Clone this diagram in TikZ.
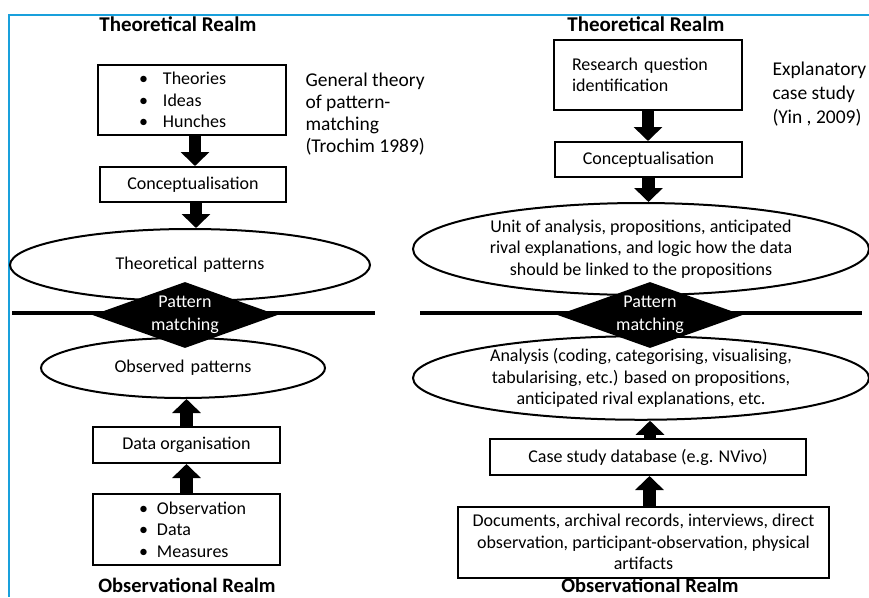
\documentclass[tikz,border=0pt]{standalone}
\usepackage{fontspec}
\setmainfont{Carlito}
\usetikzlibrary{shapes.geometric,arrows.meta}
\definecolor{frameblue}{RGB}{25,160,220}

\begin{document}
\begin{tikzpicture}[x=1pt,y=-1pt,
  every node/.style={font=\fontsize{18}{21.5}\selectfont},
  box/.style={draw, line width=2pt, inner sep=0pt, align=center},
  oval/.style={draw, ellipse, line width=2pt, inner sep=0pt, align=center, fill=white},
  pm/.style={diamond, fill=black, text=white, inner sep=0pt, aspect=2.8,
    minimum width=185pt, minimum height=66pt, align=center,
    font=\fontsize{18}{23}\selectfont},
  realm/.style={anchor=base, inner sep=0pt, font=\fontsize{21}{24}\selectfont\bfseries},
  lowrealm/.style={realm, font=\fontsize{20.5}{24}\selectfont\bfseries},
  note/.style={align=left, anchor=west},
  flow/.style={line width=12.5pt, -{Triangle[width=28pt,length=14pt]}},
  divider/.style={line width=4.5pt},
]
\useasboundingbox (0,0) rectangle (869,597);

% frame
\draw[frameblue, line width=2.5pt] (869,15) -- (9,15) -- (9,597);

% dividers between the realms
\coordinate (dl1) at (12,313);
\coordinate (dl2) at (375,313);
\coordinate (dr1) at (420,313);
\coordinate (dr2) at (862,313);
\draw[divider] (dl1) -- (dl2);
\draw[divider] (dr1) -- (dr2);

% ---------- left: general theory of pattern-matching ----------
\node[realm] (tl) at (178,31) {Theoretical Realm};
\node[box, minimum width=188pt, minimum height=70pt, text width=106pt, align=left]
  (ideas) at (192,100)
  {\makebox[24pt][l]{\textbullet}Theories\\
   \makebox[24pt][l]{\textbullet}Ideas\\
   \makebox[24pt][l]{\textbullet}Hunches};
\node[box, minimum width=186pt, minimum height=35pt] (concl) at (193,184.5) {Conceptualisation};
\node[oval, minimum width=360pt, minimum height=72pt] (tp) at (190,265) {Theoretical\hspace{6pt}patterns};
\node[oval, minimum width=284pt, minimum height=60pt] (op) at (183,368) {Observed\hspace{6pt}patterns};
\node[box, minimum width=187pt, minimum height=36pt] (dorg) at (186.5,445) {Data organisation};
\node[box, minimum width=187pt, minimum height=71pt, text width=95pt, align=left]
  (obs) at (186.5,529.5)
  {\makebox[18pt][l]{\textbullet}Observation\\
   \makebox[18pt][l]{\textbullet}Data\\
   \makebox[18pt][l]{\textbullet}Measures};
\node[lowrealm] (ol) at (187,592) {Observational Realm};
\node[pm] (pml) at (185,315) {Pattern\\matching};
\node[note, font=\fontsize{19.5}{22}\selectfont] (gt) at (302,114.5)
  {General theory\\of pattern-\\matching\\(Trochim 1989)};

\draw[flow] ([xshift=3pt]ideas.south) -- ([xshift=3pt]ideas.south |- concl.north);
\draw[flow] ([xshift=3pt]concl.south) -- ([xshift=3pt]concl.south |- tp.north);
\draw[flow] (dorg.north) -- (dorg.north |- op.south);
\draw[flow] (obs.north) -- (obs.north |- dorg.south);

% ---------- right: explanatory case study ----------
\node[realm] (tr) at (646,31) {Theoretical Realm};
\node[box, minimum width=188pt, minimum height=70pt, text width=152pt, align=left]
  (rq) at (648,75) {Research question\\identification};
\node[box, minimum width=187pt, minimum height=35pt] (concr) at (648.5,159.5) {Conceptualisation};
\node[oval, minimum width=456pt, minimum height=92pt] (unit) at (641,249)
  {Unit of analysis, propositions, anticipated\\
   rival explanations, and logic how the data\\
   should be linked to the propositions};
\node[oval, minimum width=456pt, minimum height=80pt] (ana) at (641,378)
  {Analysis (coding, categorising, visualising,\\
   tabularising, etc.) based on propositions,\\
   anticipated rival explanations, etc.};
\node[box, minimum width=316pt, minimum height=36pt] (db) at (648,457) {Case study database (e.g. NVivo)};
\node[box, minimum width=371pt, minimum height=71pt] (docs) at (643.5,542)
  {Documents, archival records, interviews,\ direct\\
   observation, participant-observation,\ physical\\
   artifacts};
\node[lowrealm] (or) at (650,592) {Observational Realm};
\node[pm] (pmr) at (650,315) {Pattern\\matching};
\node[note, font=\fontsize{19.5}{24}\selectfont] (yin) at (769,94)
  {Explanatory\\case study\\(Yin , 2009)};

\draw[flow] (rq.south) -- (rq.south |- concr.north);
\draw[flow] (concr.south) -- (concr.south |- unit.north);
\draw[flow] ([xshift=2pt]db.north) -- ([xshift=2pt]db.north |- ana.south);
\draw[flow] ([xshift=6pt]docs.north) -- ([xshift=6pt]docs.north |- db.south);
\end{tikzpicture}
\end{document}
